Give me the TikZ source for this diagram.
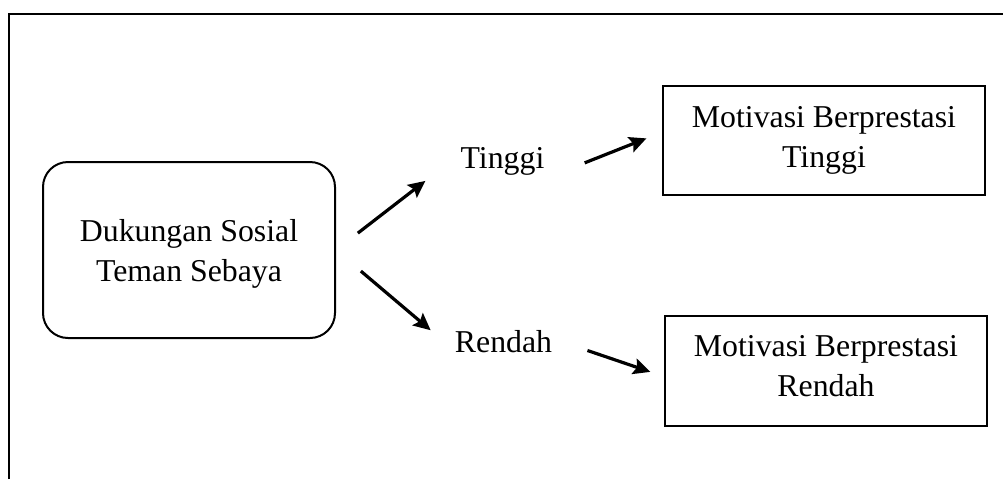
\documentclass[tikz,border=0pt]{standalone}
\usepackage{fontspec}
\setmainfont{Liberation Serif}
\usetikzlibrary{shapes,arrows.meta}
\tikzstyle{rounded box} = [rectangle, rounded corners=12.5pt, draw=black, line width=1pt, minimum width=146pt, minimum height=88pt]
\tikzstyle{plain box} = [rectangle, draw=black, line width=0.6pt, minimum width=161pt, minimum height=54.5pt]
\tikzstyle{box text} = [text centered, align=center]
\tikzstyle{level} = [inner sep=5pt]
\tikzstyle{arrow} = [line width=1.6pt,->,>={Stealth[length=8.5pt,width=8pt,inset=1.5pt]}]

\begin{document}
\begin{tikzpicture}[x=0.5pt, y=-0.5pt, font=\fontsize{15.9pt}{20pt}\selectfont]

        \useasboundingbox (0,0) rectangle (1003,479);
        \draw[line width=1.2pt] (9,479) -- (9,14) -- (1003,14);

            \node (DS) [rounded box] at (189,250) { };
            \node (DSt) [box text, yshift=-2pt] at (DS.center) {Dukungan Sosial\\Teman Sebaya};
            \node (T) [level] at (502.5,161.7) {Tinggi};
            \node (R) [level] at (503.5,342) {Rendah};
            \node (M1) [plain box] at (824,140.5) { };
            \node (M1t) [box text] at (M1.center) {Motivasi Berprestasi\\Tinggi};
            \node (M2) [plain box, minimum height=55pt] at (826,371) { };
            \node (M2t) [box text, yshift=2.5pt] at (M2.center) {Motivasi Berprestasi\\Rendah};

            \draw[arrow, shorten <=13.8pt, shorten >=15.7pt] (DS.east) -- (T.west);
            \draw[arrow, shorten <=16.3pt, shorten >=9.1pt] (DS.east) -- (R.west);
            \draw[arrow, shorten <=16.1pt, shorten >=8.6pt] (T.-14) -- (M1.177);
            \draw[arrow, shorten <=13.2pt, shorten >=7.4pt] (R.east) -- (M2.182);

    \end{tikzpicture}
\end{document}
